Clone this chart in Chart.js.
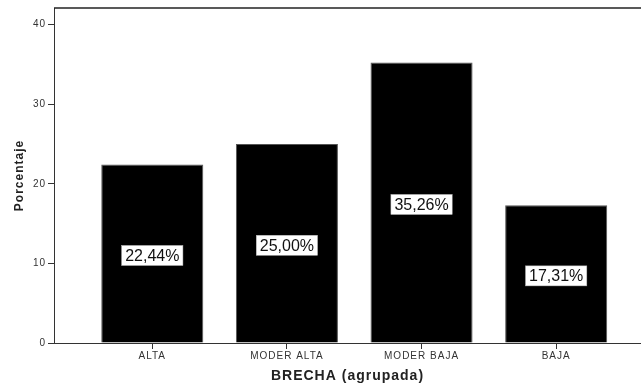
<!DOCTYPE html>
<html>
<head>
<meta charset="utf-8">
<script src="https://cdn.jsdelivr.net/npm/chart.js@4.4.1/dist/chart.umd.min.js"></script>
<style>
  html, body { margin: 0; padding: 0; background: #fff; }
  #wrap { width: 641px; height: 385px; }
</style>
</head>
<body>
<div id="wrap"><canvas id="c" width="641" height="385"></canvas></div>
<script>
// Distribution of BRECHA (grouped) in percent
const categories = ['ALTA', 'MODER ALTA', 'MODER BAJA', 'BAJA'];
const percentages = [22.44, 25.00, 35.26, 17.31];
const yTickValues = [0, 10, 20, 30, 40];

const FONT = "'Liberation Sans', Arial, sans-serif";

// Spaced lettering for axis text
const spacing = {
  id: 'spacing',
  beforeLayout(chart) { chart.ctx.letterSpacing = '1px'; },
  beforeDraw(chart) { chart.ctx.letterSpacing = '1px'; }
};

// Frame line across the top of the plot
const topFrame = {
  id: 'topFrame',
  afterDraw(chart) {
    const { ctx, chartArea } = chart;
    ctx.save();
    ctx.strokeStyle = '#222';
    ctx.lineWidth = 1.5;
    ctx.beginPath();
    ctx.moveTo(chartArea.left, chartArea.top);
    ctx.lineTo(chart.width, chartArea.top);
    ctx.stroke();
    ctx.restore();
  }
};

// Percent labels in white boxes centred on each bar
const valueBoxes = {
  id: 'valueBoxes',
  afterDatasetsDraw(chart) {
    const { ctx } = chart;
    const meta = chart.getDatasetMeta(0);
    ctx.save();
    ctx.letterSpacing = '0px';
    ctx.font = '16px ' + FONT;
    ctx.textAlign = 'center';
    ctx.textBaseline = 'middle';
    meta.data.forEach((bar, i) => {
      const txt = percentages[i].toFixed(2).replace('.', ',') + '%';
      const w = ctx.measureText(txt).width + 7;
      const h = 20;
      const cx = bar.x;
      const cy = (bar.y + bar.base) / 2 + 2;
      ctx.fillStyle = '#fff';
      ctx.fillRect(cx - w / 2, cy - h / 2, w, h);
      ctx.strokeStyle = '#bbb';
      ctx.lineWidth = 0.5;
      ctx.strokeRect(cx - w / 2, cy - h / 2, w, h);
      ctx.fillStyle = '#111';
      ctx.fillText(txt, cx, cy + 1);
    });
    ctx.restore();
  }
};

new Chart(document.getElementById('c'), {
  type: 'bar',
  data: {
    datasets: [{
      data: percentages.map((v, i) => ({ x: i, y: v })),
      backgroundColor: '#000',
      borderColor: '#555',
      borderWidth: 1,
      barPercentage: 0.758,
      categoryPercentage: 1
    }]
  },
  options: {
    responsive: false,
    animation: false,
    layout: { padding: { top: 3, right: 0, left: 0, bottom: 0 } },
    plugins: { legend: { display: false }, tooltip: { enabled: false } },
    scales: {
      x: {
        type: 'linear',
        offset: false,
        min: -0.73,
        max: 3.63,
        afterBuildTicks(scale) { scale.ticks = categories.map((_, i) => ({ value: i })); },
        afterFit(scale) { scale.height = 42; },
        ticks: {
          callback: (v) => categories[v],
          font: { family: FONT, size: 10 },
          color: '#333',
          padding: 1,
          maxRotation: 0,
          autoSkip: false
        },
        grid: { display: true, offset: false, drawOnChartArea: false, tickLength: 6, color: '#333' },
        border: { display: true, color: '#333', width: 1 },
        title: {
          display: true,
          text: 'BRECHA (agrupada)',
          font: { family: FONT, size: 14, weight: 'bold' },
          color: '#222',
          padding: { top: 0, bottom: 0 }
        }
      },
      y: {
        min: 0,
        max: 42.1,
        afterBuildTicks(scale) { scale.ticks = yTickValues.map(v => ({ value: v })); },
        afterFit(scale) { scale.width = 54; },
        ticks: {
          font: { family: FONT, size: 10 },
          color: '#333',
          padding: 2
        },
        grid: { display: true, drawOnChartArea: false, tickLength: 6, color: '#333' },
        border: { display: true, color: '#333', width: 1 },
        title: {
          display: true,
          text: 'Porcentaje',
          font: { family: FONT, size: 12, weight: 'bold' },
          color: '#222',
          padding: { top: 12, bottom: 0 }
        }
      }
    }
  },
  plugins: [spacing, topFrame, valueBoxes]
});
</script>
</body>
</html>
